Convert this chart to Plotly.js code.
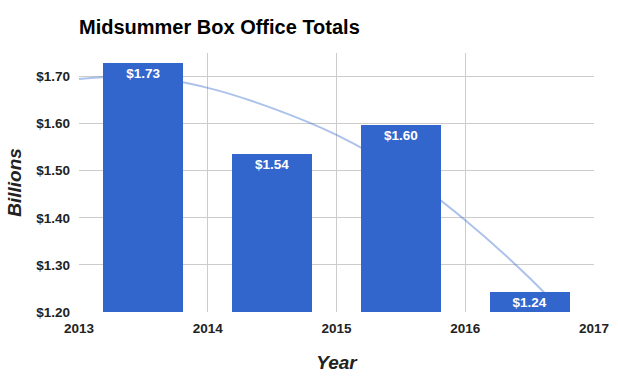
<!DOCTYPE html>
<html>
<head>
<meta charset="utf-8">
<script src="https://cdn.plot.ly/plotly-3.0.1.min.js"></script>
<style>html,body{margin:0;padding:0;background:#fff;}#chart{width:618px;height:385px;}</style>
</head>
<body>
<div id="chart"></div>
<script>
// Data
var years = [2013.5, 2014.5, 2015.5, 2016.5];
var totals = [1.729, 1.536, 1.597, 1.242];
// Trendline
var trendYears = [2013, 2013.5, 2014, 2014.5, 2015, 2015.5, 2016, 2016.5, 2017];
var trendValues = [1.695, 1.700, 1.676, 1.633, 1.576, 1.498, 1.395, 1.272, 1.128];
var xTicks = [2013, 2014, 2015, 2016, 2017];
var yTicks = [1.2, 1.3, 1.4, 1.5, 1.6, 1.7];

var FONT = 'Arial, "Liberation Sans", sans-serif';

var trend = {
  x: trendYears, y: trendValues, type: 'scatter', mode: 'lines',
  line: {color: 'rgba(51,102,204,0.4)', width: 2, shape: 'spline'},
  hoverinfo: 'skip', showlegend: false, xaxis: 'x', yaxis: 'y'
};
var bars = {
  x: years, y: totals, type: 'bar', width: 0.62,
  marker: {color: '#3366cc'},
  texttemplate: '$%{y:.2f}', textposition: 'inside', insidetextanchor: 'end',
  textangle: 0,
  textfont: {family: FONT, size: 13.5, color: '#ffffff', weight: 'bold'},
  showlegend: false, xaxis: 'x2', yaxis: 'y2'
};

var layout = {
  width: 618, height: 385,
  margin: {l: 79, r: 24, t: 53, b: 73},
  paper_bgcolor: '#fff', plot_bgcolor: '#fff',
  title: {text: 'Midsummer Box Office Totals', x: 79/618, xanchor: 'left', y: 1 - 27/385, yanchor: 'middle',
          font: {family: FONT, size: 20, color: '#000', weight: 'bold'}},
  xaxis: {
    range: [2013, 2017], tickvals: xTicks, ticktext: xTicks.map(String),
    showgrid: true, gridcolor: '#cccccc', gridwidth: 1, zeroline: false, showline: false,
    ticks: '', ticklabelstandoff: 6, tickfont: {family: FONT, size: 13.5, color: '#222', weight: 'bold'},
    title: {text: 'Year', standoff: 21, font: {family: FONT, size: 19, color: '#222', weight: 'bold', style: 'italic'}},
    fixedrange: true
  },
  yaxis: {
    range: [1.2, 1.75], tickvals: yTicks, tickformat: '$.2f',
    showgrid: true, gridcolor: '#cccccc', gridwidth: 1, zeroline: false, showline: false,
    ticks: '', ticklabelstandoff: 8, tickfont: {family: FONT, size: 13.5, color: '#222', weight: 'bold'},
    title: {text: 'Billions', standoff: 9, font: {family: FONT, size: 19, color: '#222', weight: 'bold', style: 'italic'}},
    fixedrange: true
  },
  xaxis2: {range: [2013, 2017], overlaying: 'x', visible: false, fixedrange: true},
  yaxis2: {range: [1.2, 1.75], overlaying: 'y', visible: false, fixedrange: true},
  bargap: 0
};

Plotly.newPlot('chart', [trend, bars], layout, {displayModeBar: false, staticPlot: true});
</script>
</body>
</html>
